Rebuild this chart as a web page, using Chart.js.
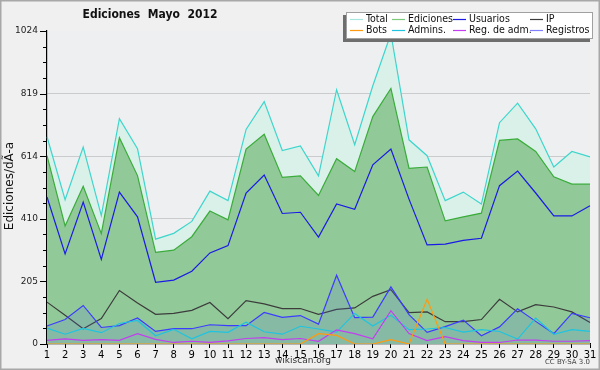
<!DOCTYPE html>
<html lang="es">
<head>
  <meta charset="UTF-8" />
  <title>Ediciones Mayo 2012</title>
  <script src="https://cdn.jsdelivr.net/npm/chart.js"></script>
  <style>
    body { margin: 0; background: #f0f0f0; }
    #chart { display: block; }
  </style>
</head>
<body>
  <canvas id="chart" width="600" height="370"></canvas>

  <script>
    // Datos (ediciones por dia, mayo 2012)
    const days = ['1','2','3','4','5','6','7','8','9','10','11','12','13','14','15','16',
                  '17','18','19','20','21','22','23','24','25','26','27','28','29','30','31'];
    const total     = [678,472,644,420,737,639,343,362,401,500,469,702,793,633,648,550,832,652,845,1015,668,616,469,497,458,724,788,704,579,630,612];
    const ediciones = [616,386,516,361,675,551,300,307,351,435,406,638,686,545,550,486,606,564,744,836,575,579,403,416,428,666,671,630,547,523,523];
    const usuarios  = [481,295,464,277,497,416,202,209,238,298,322,494,553,427,431,350,458,441,586,638,474,324,327,339,346,518,566,494,419,419,452];
    const ip        = [137,94,50,83,175,134,97,100,110,136,83,142,131,116,116,97,113,118,156,178,103,105,73,73,80,146,105,129,121,105,70];
    const bots      = [0,0,0,0,0,0,0,0,0,0,0,0,0,0,0,34,28,0,0,14,0,146,0,0,0,0,0,0,0,0,0];
    const admins    = [52,32,51,37,67,77,27,48,17,41,38,71,40,32,58,49,39,100,59,94,47,49,54,39,47,41,16,85,32,47,41];
    const regAdm    = [12,17,12,14,12,34,15,5,9,5,10,18,21,14,18,9,46,34,17,109,34,11,24,11,5,5,13,13,9,9,11];
    const registros = [59,80,126,54,60,85,41,50,50,63,60,60,103,87,93,65,225,86,88,187,96,38,57,78,27,56,115,74,34,100,86];

    const yMax = 1024;
    const yStep = 51.2;   // 4 subdivisiones por etiqueta

    function serie(label, data, color, extra) {
      return Object.assign({
        label: label, data: data, borderColor: color, legendColor: color,
        borderWidth: 1.2, pointRadius: 0, tension: 0, fill: false
      }, extra || {});
    }

    // orden de la leyenda (fila 1 y fila 2)
    const datasets = [
      serie('Total', total, '#3ed6cc', { fill: 'origin', backgroundColor: '#d9f1e9', legendColor: '#a6e6de', order: 8 }),
      serie('Ediciones', ediciones, '#3aac3a', { fill: 'origin', backgroundColor: '#91c998', legendColor: '#7cc87c', order: 7 }),
      serie('Usuarios', usuarios, '#1a1ae6', { order: 6 }),
      serie('IP', ip, '#3c3c3c', { order: 5 }),
      serie('Bots', bots, '#ff9a10', { order: 1 }),
      serie('Admins.', admins, '#1ec4e0', { order: 3 }),
      serie('Reg. de adm.', regAdm, '#c23ef0', { order: 2 }),
      serie('Registros', registros, '#3c3cff', { fill: 'origin', backgroundColor: 'rgba(90,110,230,0.16)', legendColor: '#8080ff', order: 4 })
    ];

    const FONT = '"DejaVu Sans Condensed", "DejaVu Sans", sans-serif';

    const decor = {
      id: 'decor',
      beforeDraw(chart) {
        const ctx = chart.ctx, a = chart.chartArea;
        ctx.save();
        ctx.fillStyle = '#f0f0f0';
        ctx.fillRect(0, 0, chart.width, chart.height);
        ctx.fillStyle = '#eeeff1';
        ctx.fillRect(a.left, a.top, a.right - a.left, a.bottom - a.top);
        ctx.restore();
      },
      afterDraw(chart) {
        const ctx = chart.ctx, a = chart.chartArea, ys = chart.scales.y;
        ctx.save();

        // marcas del eje y
        ctx.strokeStyle = '#000';
        ctx.lineWidth = 1;
        ys.ticks.forEach(function (t, i) {
          const y = Math.round(ys.getPixelForTick(i)) + 0.5;
          const len = i % 4 === 0 ? 7 : 4;
          ctx.beginPath();
          ctx.moveTo(a.left - len, y);
          ctx.lineTo(a.left, y);
          ctx.stroke();
        });

        // titulo
        ctx.fillStyle = '#111';
        ctx.font = 'bold 12px ' + FONT;
        ctx.textAlign = 'center';
        ctx.textBaseline = 'middle';
        ctx.fillText('Ediciones  Mayo  2012', 150, 15);

        // titulo eje y
        ctx.save();
        ctx.translate(10, 186);
        ctx.rotate(-Math.PI / 2);
        ctx.font = '12px "DejaVu Sans"';
        ctx.fillText('Ediciones/dÃ-a', 0, 0);
        ctx.restore();

        // pie
        ctx.fillStyle = '#333';
        ctx.font = '9px "DejaVu Sans"';
        ctx.fillText('wikiscan.org', 303, 361);
        ctx.textAlign = 'right';
        ctx.font = '7px "DejaVu Sans"';
        ctx.fillStyle = '#444';
        ctx.fillText('CC BY-SA 3.0', 590, 362);

        // leyenda
        const bx = 346, by = 12, bw = 247, bh = 27;
        ctx.fillStyle = '#6e6e6e';
        ctx.fillRect(bx - 3, by + 3, bw, bh);
        ctx.fillStyle = '#fff';
        ctx.fillRect(bx, by, bw, bh);
        ctx.strokeStyle = '#a0a0a0';
        ctx.strokeRect(bx + 0.5, by + 0.5, bw - 1, bh - 1);
        const cols = [350, 392, 453, 530];
        const rows = [19, 30];
        ctx.font = '10.5px ' + FONT;
        ctx.textAlign = 'left';
        chart.data.datasets.forEach(function (ds, i) {
          const x = cols[i % 4], y = rows[Math.floor(i / 4)];
          ctx.strokeStyle = ds.legendColor;
          ctx.lineWidth = 1.2;
          ctx.beginPath();
          ctx.moveTo(x, y + 0.5);
          ctx.lineTo(x + 13, y + 0.5);
          ctx.stroke();
          ctx.fillStyle = '#111';
          ctx.fillText(ds.label, x + 16, y);
        });

        // borde exterior
        ctx.strokeStyle = '#a8a8a8';
        ctx.lineWidth = 1.5;
        ctx.strokeRect(0.75, 0.75, chart.width - 1.5, chart.height - 1.5);
        ctx.restore();
      }
    };

    new Chart(document.getElementById('chart'), {
      type: 'line',
      data: { labels: days, datasets: datasets },
      options: {
        responsive: false,
        animation: false,
        devicePixelRatio: 1,
        layout: { padding: { left: 0, right: 10, top: 31, bottom: 0 } },
        plugins: { legend: { display: false }, tooltip: { enabled: false } },
        scales: {
          x: {
            offset: false,
            border: { color: '#000', width: 1.2 },
            grid: { drawOnChartArea: false, tickLength: 4, tickColor: '#000' },
            ticks: { color: '#000', font: { family: 'DejaVu Sans', size: 10 }, padding: 1, autoSkip: false, maxRotation: 0 },
            afterFit(scale) { scale.height = 26; }
          },
          y: {
            min: 0,
            max: yMax,
            z: 1,
            border: { color: '#000', width: 1.2 },
            grid: {
              drawTicks: false,
              color(c) { return c.index % 4 === 0 && c.index > 0 && c.index < 20 ? 'rgba(0,0,0,0.15)' : 'rgba(0,0,0,0)'; }
            },
            ticks: {
              stepSize: yStep,
              autoSkip: false,
              padding: 9,
              color: '#222',
              font: { family: 'DejaVu Sans', size: 9 },
              callback(v, i) { return i % 4 === 0 ? String(Math.round(v)) : ''; }
            },
            afterFit(scale) { scale.width = 47; }
          }
        }
      },
      plugins: [decor]
    });
  </script>
</body>
</html>
